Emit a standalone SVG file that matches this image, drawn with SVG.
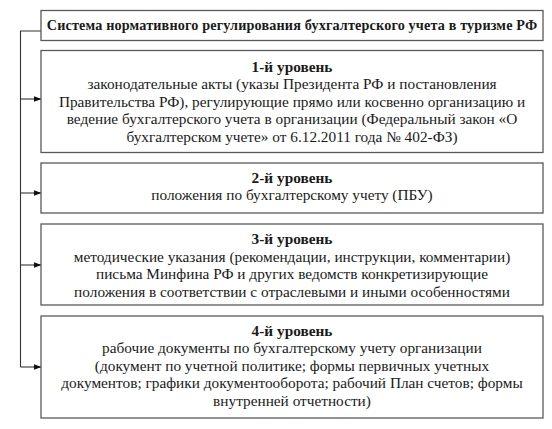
<svg xmlns="http://www.w3.org/2000/svg" width="552" height="429" viewBox="0 0 552 429">
<defs>
<style>
.box{fill:#fff;stroke:#5a5a5a;stroke-width:1.3}
text{font-family:'Liberation Serif','Times New Roman',serif;fill:#1a1a1a;text-anchor:middle}
.t{font-size:15.3px}
.b{font-weight:bold}
.title{font-size:14.2px;font-weight:bold;letter-spacing:0.15px}
.c{fill:none;stroke:#333;stroke-width:1.1}
</style>
<marker id="ah" markerWidth="8" markerHeight="6" refX="7.5" refY="3" orient="auto" markerUnits="userSpaceOnUse">
<path d="M0,0 L8,3 L0,6 Z" fill="#111"/>
</marker>
</defs>
<rect width="552" height="429" fill="#fff"/>
<g id="connectors">
<path class="c" d="M41,31 H20.5 V367"/>
<path class="c" d="M20.5,367 H41" marker-end="url(#ah)"/>
<path class="c" d="M20.5,99 H41" marker-end="url(#ah)"/>
<path class="c" d="M20.5,193 H41" marker-end="url(#ah)"/>
<path class="c" d="M20.5,265 H41" marker-end="url(#ah)"/>
</g>
<g id="title">
<rect class="box" x="41" y="10.5" width="502" height="30"/>
<text class="title" x="292" y="30">Система нормативного регулирования бухгалтерского учета в туризме РФ</text>
</g>
<g id="level1">
<rect class="box" x="41" y="50.5" width="502" height="102"/>
<text class="t b" x="292" y="71.5">1-й уровень</text>
<text class="t" x="292" y="89.1">законодательные акты (указы Президента РФ и постановления</text>
<text class="t" x="292" y="106.7">Правительства РФ), регулирующие прямо или косвенно организацию и</text>
<text class="t" x="292" y="124.3">ведение бухгалтерского учета в организации (Федеральный закон «О</text>
<text class="t" x="292" y="141.9">бухгалтерском учете» от 6.12.2011 года № 402-ФЗ)</text>
</g>
<g id="level2">
<rect class="box" x="41" y="163" width="502" height="50"/>
<text class="t b" x="292" y="182.5">2-й уровень</text>
<text class="t" x="292" y="200.1">положения по бухгалтерскому учету (ПБУ)</text>
</g>
<g id="level3">
<rect class="box" x="41" y="224" width="502" height="81"/>
<text class="t b" x="292" y="244">3-й уровень</text>
<text class="t" x="292" y="261.6">методические указания (рекомендации, инструкции, комментарии)</text>
<text class="t" x="292" y="279.2">письма Минфина РФ и других ведомств конкретизирующие</text>
<text class="t" x="292" y="296.8">положения в соответствии с отраслевыми и иными особенностями</text>
</g>
<g id="level4">
<rect class="box" x="41" y="316" width="502" height="102"/>
<text class="t b" x="292" y="335.5">4-й уровень</text>
<text class="t" x="292" y="353.1">рабочие документы по бухгалтерскому учету организации</text>
<text class="t" x="292" y="370.7">(документ по учетной политике; формы первичных учетных</text>
<text class="t" x="292" y="388.3">документов; графики документооборота; рабочий План счетов; формы</text>
<text class="t" x="292" y="405.9">внутренней отчетности)</text>
</g>
</svg>
